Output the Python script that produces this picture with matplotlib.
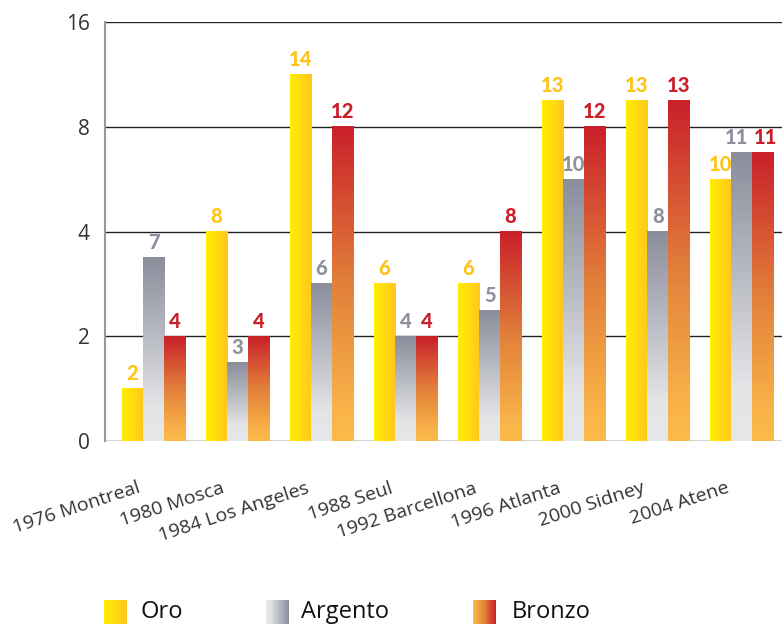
import matplotlib.pyplot as plt
import numpy as np
from matplotlib.colors import LinearSegmentedColormap

plt.rcParams['font.family'] = ['Open Sans', 'DejaVu Sans']

# Data
games = ['1976 Montreal', '1980 Mosca', '1984 Los Angeles', '1988 Seul',
         '1992 Barcellona', '1996 Atlanta', '2000 Sidney', '2004 Atene']
oro = [2, 8, 14, 6, 6, 13, 13, 10]
argento = [7, 3, 6, 4, 5, 10, 8, 11]
bronzo = [4, 4, 12, 4, 8, 12, 13, 11]
series_names = ['Oro', 'Argento', 'Bronzo']

# y ticks (labels as printed in the original)
ytick_pos = [0, 4, 8, 12, 16]
ytick_labels = ['0', '2', '4', '8', '16']

# colours
gold_cmap = LinearSegmentedColormap.from_list('gold', ['#FFEE00', '#FFC81E'])
silver_cmap = LinearSegmentedColormap.from_list(
    'silver', [(0, '#E6E7E9'), (0.18, '#E4E5E7'), (1, '#8A8E9B')])
bronze_cmap = LinearSegmentedColormap.from_list(
    'bronze', [(0, '#FBBB4A'), (0.1, '#F9B349'), (0.5, '#E2803A'), (1, '#C9202A')])
label_colors = ['#FDC316', '#8D919E', '#C9202A']

fig = plt.figure(figsize=(7.82, 6.25), dpi=100)
ax = fig.add_axes([105 / 782, 1 - 441 / 625, 677 / 782, 419 / 625])

x = np.arange(len(games))
width = 0.25
grad = np.linspace(0, 1, 256)


def gradient_bars(values, offset, cmap, horizontal, color, nudge):
    bars = ax.bar(x + offset, values, width, color='none', zorder=3)
    for i, (b, v) in enumerate(zip(bars, values)):
        bx, bw, bh = b.get_x(), b.get_width(), b.get_height()
        if horizontal:
            img = grad.reshape(1, -1)
        else:
            img = grad.reshape(-1, 1)
        ax.imshow(img, cmap=cmap, extent=[bx, bx + bw, 0, bh], origin='lower',
                  aspect='auto', zorder=3, interpolation='bilinear')
        ax.annotate(str(v), (bx + bw / 2, bh), xytext=(nudge[i], 4),
                    textcoords='offset points', ha='center', va='bottom',
                    fontsize=14.5, fontweight=900, color=color, zorder=4,
                    family=['Lato', 'DejaVu Sans'])
    return bars


# push apart labels of neighbouring bars with the same two-digit height
nudge_silver = [-4 if a == b and a >= 10 else 0 for a, b in zip(argento, bronzo)]
nudge_bronze = [2 if a == b and a >= 10 else 0 for a, b in zip(argento, bronzo)]

gradient_bars(oro, -width, gold_cmap, True, label_colors[0], [0] * len(oro))
gradient_bars(argento, 0, silver_cmap, False, label_colors[1], nudge_silver)
gradient_bars(bronzo, width, bronze_cmap, False, label_colors[2], nudge_bronze)

ax.set_xlim(-0.577, 7.48)
ax.set_ylim(0, 16)
ax.set_yticks(ytick_pos, ytick_labels)
ax.yaxis.grid(True, color='#222222', linewidth=1)
ax.set_axisbelow(True)
ax.tick_params(axis='y', length=0, pad=11, labelsize=15, labelcolor='#333333')

ax.set_xticks(x - 0.14, games, rotation=18, ha='right', va='baseline',
              rotation_mode='anchor')
ax.tick_params(axis='x', length=0, pad=37, labelsize=14, labelcolor='#333333')

for s in ['top', 'right', 'bottom']:
    ax.spines[s].set_visible(False)
ax.spines['left'].set_color('#999999')
ax.spines['left'].set_linewidth(1.5)

# legend with gradient squares
legend_cmaps = [gold_cmap, silver_cmap, bronze_cmap]
legend_box_x = [104, 266, 473]
legend_text_x = [141, 301, 512]
for name, cm, bx, tx in zip(series_names, legend_cmaps, legend_box_x, legend_text_x):
    lax = fig.add_axes([bx / 782, 1 - 624 / 625, 23 / 782, 24 / 625])
    lax.imshow(grad.reshape(1, -1), cmap=cm, aspect='auto',
               interpolation='bilinear')
    lax.axis('off')
    fig.text(tx / 782, 1 - 612 / 625, name, fontsize=17, va='center',
             ha='left', color='#111111')

plt.savefig('out.png', dpi=100)
